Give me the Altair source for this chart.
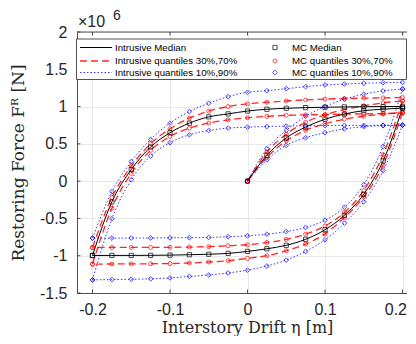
import altair as alt
import pandas as pd

# ---------------- data (force in 1e6 N) ----------------
disp_load = [0.0, 0.025, 0.05, 0.075, 0.1, 0.125, 0.15, 0.175, 0.2]
disp_unload = [0.2, 0.175, 0.15, 0.125, 0.1, 0.075, 0.05, 0.025, 0.0,
               -0.025, -0.05, -0.075, -0.1, -0.125, -0.15, -0.175, -0.2]
disp_reload = [-0.2, -0.175, -0.15, -0.125, -0.1, -0.075, -0.05, -0.025, 0.0,
               0.025, 0.05, 0.075, 0.1, 0.125, 0.15, 0.175, 0.2]

load_med = [0, 0.347, 0.580, 0.725, 0.830, 0.900, 0.945, 0.965, 0.980]
load_q70 = [0, 0.390, 0.630, 0.790, 0.890, 0.960, 1.010, 1.050, 1.075]
load_q90 = [0, 0.436, 0.680, 0.870, 1.000, 1.100, 1.165, 1.210, 1.235]
load_q30 = [0, 0.320, 0.540, 0.680, 0.770, 0.830, 0.870, 0.900, 0.920]
load_q10 = [0, 0.285, 0.480, 0.582, 0.650, 0.700, 0.730, 0.745, 0.750]

unload_med = [0.980, 0.272, -0.176, -0.460, -0.652, -0.780, -0.860, -0.907, -0.942,
              -0.969, -0.980, -0.987, -0.992, -0.995, -0.996, -0.996, -0.997]
unload_q70 = [1.075, 0.355, -0.125, -0.420, -0.600, -0.711, -0.782, -0.822, -0.853,
              -0.867, -0.878, -0.884, -0.887, -0.889, -0.889, -0.889, -0.890]
unload_q90 = [1.235, 0.465, -0.044, -0.351, -0.524, -0.622, -0.676, -0.711, -0.733,
              -0.745, -0.755, -0.758, -0.760, -0.762, -0.763, -0.764, -0.764]
unload_q30 = [0.920, 0.215, -0.212, -0.489, -0.707, -0.844, -0.933, -1.000, -1.035,
              -1.067, -1.084, -1.098, -1.105, -1.108, -1.110, -1.111, -1.112]
unload_q10 = [0.750, 0.140, -0.276, -0.564, -0.787, -0.942, -1.058, -1.138, -1.193,
              -1.231, -1.258, -1.278, -1.298, -1.310, -1.316, -1.320, -1.324]

reload_med = [-0.997, -0.278, 0.156, 0.458, 0.649, 0.778, 0.862, 0.902, 0.940,
              0.964, 0.977, 0.986, 0.991, 0.995, 0.998, 1.000, 1.002]
reload_q70 = [-0.890, -0.220, 0.200, 0.502, 0.702, 0.844, 0.938, 1.000, 1.036,
              1.058, 1.075, 1.090, 1.100, 1.108, 1.113, 1.117, 1.120]
reload_q90 = [-0.764, -0.142, 0.262, 0.560, 0.778, 0.933, 1.044, 1.133, 1.191,
              1.213, 1.240, 1.267, 1.290, 1.302, 1.313, 1.320, 1.324]
reload_q30 = [-1.112, -0.364, 0.104, 0.413, 0.600, 0.711, 0.778, 0.822, 0.849,
              0.868, 0.882, 0.889, 0.893, 0.898, 0.902, 0.906, 0.910]
reload_q10 = [-1.324, -0.505, 0.020, 0.338, 0.516, 0.622, 0.680, 0.711, 0.724,
              0.733, 0.738, 0.742, 0.745, 0.747, 0.748, 0.749, 0.750]

x_ticks = [-0.2, -0.1, 0.0, 0.1, 0.2]
y_ticks = [-1.5e6, -1.0e6, -0.5e6, 0.0, 0.5e6, 1.0e6, 1.5e6, 2.0e6]

legend_lines = ["Intrusive Median", "Intrusive quantiles 30%,70%", "Intrusive quantiles 10%,90%"]
legend_marks = ["MC Median", "MC quantiles 30%,70%", "MC quantiles 10%,90%"]

branches = [
    ("load", disp_load, {"med": load_med, "q70": load_q70, "q90": load_q90,
                         "q30": load_q30, "q10": load_q10}),
    ("unload", disp_unload, {"med": unload_med, "q70": unload_q70, "q90": unload_q90,
                             "q30": unload_q30, "q10": unload_q10}),
    ("reload", disp_reload, {"med": reload_med, "q70": reload_q70, "q90": reload_q90,
                             "q30": reload_q30, "q10": reload_q10}),
]
style_of = {"med": "median", "q30": "q3070", "q70": "q3070", "q10": "q1090", "q90": "q1090"}
rows = []
for bname, xs, stats in branches:
    for sname, vals in stats.items():
        for i, (xv, fv) in enumerate(zip(xs, vals)):
            rows.append({"x": xv, "F": fv * 1e6, "branch": bname, "stat": sname,
                         "style": style_of[sname], "i": i, "grp": bname + "_" + sname})
df = pd.DataFrame(rows)

# ---------------- layout ----------------
W, H = 330, 261
TXT = "#262626"
SANS = "Liberation Sans"
SERIF = "DejaVu Serif"

xscale = alt.Scale(domain=[-0.22, -0.22 + W / 775.0], nice=False, zero=False)
yscale = alt.Scale(domain=[-1.5e6, 2.0e6], nice=False, zero=False)

xaxis = alt.Axis(values=x_ticks,
                 labelExpr="datum.value == 0 ? '0' : (datum.value < 0 ? '-' : '') + format(abs(datum.value), '.1f')",
                 labelFont=SANS, labelFontSize=16, labelColor=TXT, labelPadding=8,
                 labelAlign={"condition": {"test": "datum.value > 0.15", "value": "right"}, "value": "center"},
                 labelOffset={"condition": {"test": "datum.value > 0.15", "value": 4}, "value": 0},
                 labelFlush=False, labelOverlap=False, labelBound=False,
                 ticks=False, domainColor=TXT, domainWidth=0.8,
                 grid=True, gridColor="#e2e2e2", gridWidth=0.8,
                 title="Interstory Drift η [m]", titleFont=SERIF, titleFontSize=16,
                 titleFontWeight="normal", titleColor=TXT, titleX=170, titleY=39.5,
                 titleBaseline="alphabetic", titleAlign="center")
yaxis = alt.Axis(values=y_ticks,
                 labelExpr="datum.value == 0 ? '0' : (datum.value < 0 ? '-' : '') + format(abs(datum.value) / 1e6, '~g')",
                 labelFont=SANS, labelFontSize=16, labelColor=TXT, labelPadding=10,
                 labelFlush=False, labelOverlap=False,
                 ticks=False, domainColor=TXT, domainWidth=0.8,
                 grid=True, gridColor="#e2e2e2", gridWidth=0.8,
                 title="Restoring Force Fᴿ [N]", titleFont=SERIF, titleFontSize=17,
                 titleFontWeight="normal", titleColor=TXT, titleAngle=270,
                 titleX=-59, titleY=H / 2, titleBaseline="middle", titleAlign="center")

X = alt.X("x:Q", scale=xscale, axis=xaxis)
Y = alt.Y("F:Q", scale=yscale, axis=yaxis)

base = alt.Chart(df)

def lines(style, **kw):
    return base.transform_filter(alt.datum.style == style).mark_line(
        interpolate="monotone", **kw).encode(x=X, y=Y, detail="grp:N", order="i:Q")

def points(style, **kw):
    return base.transform_filter(alt.datum.style == style).mark_point(
        filled=False, **kw).encode(x=X, y=Y)

l_blue = lines("q1090", color="#0000ff", strokeWidth=1, strokeDash=[1.5, 2], opacity=0.8)
l_red = lines("q3070", color="#ff0000", strokeWidth=1.3, strokeDash=[7, 4], opacity=0.85)
l_black = lines("median", color="#000000", strokeWidth=1)
p_blue = points("q1090", shape="diamond", size=22, color="#0000ff", strokeWidth=1)
p_red = points("q3070", shape="circle", size=16, color="#ff0000", strokeWidth=1)
p_black = points("median", shape="square", size=18, color="#000000", strokeWidth=1)

# frame: top border and inward ticks
xt = pd.DataFrame({"x": x_ticks})
yt = pd.DataFrame({"F": y_ticks})
one = pd.DataFrame({"k": [0]})
top_border = alt.Chart(one).mark_rule(color=TXT, strokeWidth=0.8).encode(
    x=alt.value(0), x2=alt.value(W), y=alt.value(0))
tick_b = alt.Chart(xt).mark_rule(color=TXT, strokeWidth=0.8).encode(
    x=X, y=alt.value(H), y2=alt.value(H - 3.5))
tick_t = alt.Chart(xt).mark_rule(color=TXT, strokeWidth=0.8).encode(
    x=X, y=alt.value(0), y2=alt.value(3.5))
tick_l = alt.Chart(yt).mark_rule(color=TXT, strokeWidth=0.8).encode(
    y=Y, x=alt.value(0), x2=alt.value(3.5))

# exponent label
exp1 = alt.Chart(one).mark_text(font=SANS, fontSize=16, color=TXT, align="left",
                                baseline="alphabetic").encode(
    x=alt.value(1), y=alt.value(-5), text=alt.value("×10"))
exp2 = alt.Chart(one).mark_text(font=SANS, fontSize=14, color=TXT, align="left",
                                baseline="alphabetic").encode(
    x=alt.value(36), y=alt.value(-12.5), text=alt.value("6"))

# legend
leg_box = alt.Chart(one).mark_rect(fill="white", stroke=TXT, strokeWidth=0.8).encode(
    x=alt.value(-0.5), x2=alt.value(W - 0.5), y=alt.value(7), y2=alt.value(47.5))
rows_y = [15.5, 29, 40.5]
leg = [leg_box]
leg.append(alt.Chart(one).mark_rule(color="#000000", strokeWidth=1).encode(
    x=alt.value(3), x2=alt.value(35), y=alt.value(rows_y[0])))
leg.append(alt.Chart(one).mark_rule(color="#ff0000", strokeWidth=1.3, strokeDash=[7, 4], opacity=0.85).encode(
    x=alt.value(3), x2=alt.value(35), y=alt.value(rows_y[1])))
leg.append(alt.Chart(one).mark_rule(color="#0000ff", strokeWidth=1, strokeDash=[1.5, 2], opacity=0.8).encode(
    x=alt.value(3), x2=alt.value(35), y=alt.value(rows_y[2])))
leg.append(alt.Chart(one).mark_point(shape="square", size=18, color="#000000", filled=False, strokeWidth=1).encode(
    x=alt.value(198), y=alt.value(rows_y[0])))
leg.append(alt.Chart(one).mark_point(shape="circle", size=16, color="#ff0000", filled=False, strokeWidth=1).encode(
    x=alt.value(198), y=alt.value(rows_y[1])))
leg.append(alt.Chart(one).mark_point(shape="diamond", size=22, color="#0000ff", filled=False, strokeWidth=1).encode(
    x=alt.value(198), y=alt.value(rows_y[2])))
for k in range(3):
    leg.append(alt.Chart(one).mark_text(font=SANS, fontSize=9.7, color="#000000", align="left",
                                        baseline="middle").encode(
        x=alt.value(38), y=alt.value(rows_y[k]), text=alt.value(legend_lines[k])))
    leg.append(alt.Chart(one).mark_text(font=SANS, fontSize=9.7, color="#000000", align="left",
                                        baseline="middle").encode(
        x=alt.value(215), y=alt.value(rows_y[k]), text=alt.value(legend_marks[k])))

chart = alt.layer(
    l_blue, l_red, l_black, p_blue, p_red, p_black,
    top_border, tick_b, tick_t, tick_l, exp1, exp2, *leg
).properties(
    width=W, height=H,
    autosize=alt.AutoSizeParams(type="none"),
    padding={"left": 69, "top": 24, "right": 0, "bottom": 43},
    background="white",
).configure_view(strokeWidth=0)

chart.save("out.html", embed_options={"renderer": "svg", "actions": False})
